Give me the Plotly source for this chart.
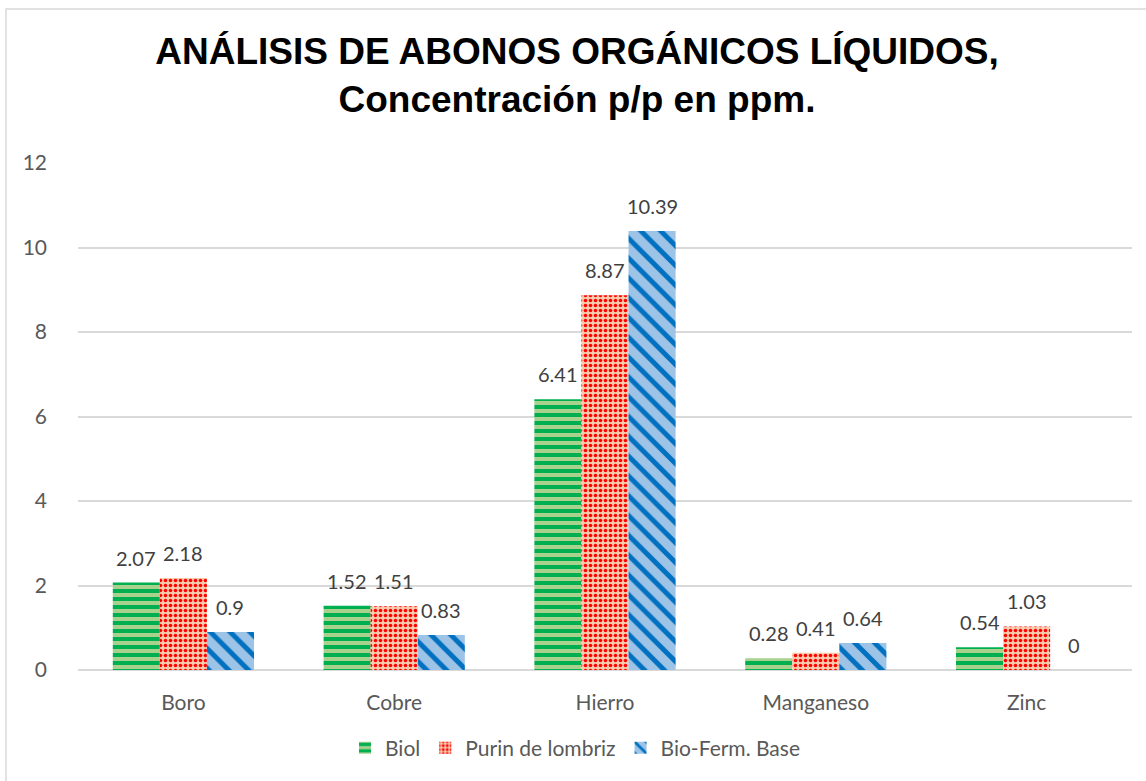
import plotly.graph_objects as go

categories = ["Boro", "Cobre", "Hierro", "Manganeso", "Zinc"]
biol = [2.07, 1.52, 6.41, 0.28, 0.54]
purin = [2.18, 1.51, 8.87, 0.41, 1.03]
biofer = [0.9, 0.83, 10.39, 0.64, 0]
series_names = ["Biol", "Purin de lombriz", "Bio-Ferm. Base"]
y_ticks = [0, 2, 4, 6, 8, 10, 12]

FONT = "Lato"
W, H = 1146, 781
L, R, T, B = 78, 1146 - 1132, 163, 781 - 670
pw, ph = W - L - R, H - T - B

styles = [
    dict(bg="#A9D18E", fg="#00B050", shape="-", size=8, sol=0.5),
    dict(bg="#F8CBAD", fg="#FF0000", shape=".", size=5, sol=0.4),
    dict(bg="#9DC3E6", fg="#0070C0", shape="\\", size=14, sol=0.35),
]

fig = go.Figure()
all_vals = [biol, purin, biofer]
for name, vals, st in zip(series_names, all_vals, styles):
    fig.add_trace(go.Bar(
        x=categories, y=vals, name=name,
        marker=dict(
            color=st["bg"], line=dict(width=0),
            pattern=dict(shape=st["shape"], fgcolor=st["fg"], bgcolor=st["bg"],
                         size=st["size"], solidity=st["sol"], fillmode="replace"),
        ),
    ))

bar_px = 47
for i, vals in enumerate(all_vals):
    for c, v in zip(categories, vals):
        fig.add_annotation(x=c, y=v, text=f"{v:g}", showarrow=False,
                           xshift=(i - 1) * bar_px, yshift=25, yanchor="middle",
                           font=dict(family=FONT, size=20, color="#404040"))

def px2x(px):
    return (px - L) / pw

def py2y(py):
    return (H - B - py) / ph

fig.add_shape(type="rect", xref="paper", yref="paper",
              x0=px2x(6), x1=px2x(1170), y0=py2y(9), y1=py2y(820),
              line=dict(color="#D9D9D9", width=1.5), fillcolor="rgba(0,0,0,0)", layer="below")

fig.update_layout(
    width=W, height=H,
    margin=dict(l=L, r=R, t=T, b=B),
    paper_bgcolor="white", plot_bgcolor="white",
    barmode="group", bargap=0.33, bargroupgap=0,
    title=dict(text="<b>ANÁLISIS DE ABONOS ORGÁNICOS LÍQUIDOS,<br>Concentración p/p en ppm.</b>",
               x=577 / W, xanchor="center", y=1 - 64 / H, yanchor="middle",
               font=dict(family="Liberation Sans, Arial", size=37, color="black")),
    font=dict(family=FONT, size=21, color="#595959"),
    showlegend=True,
    legend=dict(orientation="h", x=px2x(575), xanchor="center", y=py2y(748), yanchor="middle",
                font=dict(family=FONT, size=21, color="#595959"), itemwidth=30,
                traceorder="normal"),
    xaxis=dict(showgrid=False, showline=False, ticks="", tickfont=dict(size=21, color="#595959"),
               ticklabelstandoff=18),
    yaxis=dict(range=[0, 12], tickvals=y_ticks, showgrid=True, gridcolor="#D9D9D9", gridwidth=1.5,
               zeroline=True, zerolinecolor="#D9D9D9", zerolinewidth=1.5, showline=False,
               tickfont=dict(size=21, color="#595959"), ticklabelstandoff=30),
)

fig.write_html("out.html", config={"displayModeBar": False},
               post_script="document.body.style.margin='0';document.documentElement.style.margin='0';")
